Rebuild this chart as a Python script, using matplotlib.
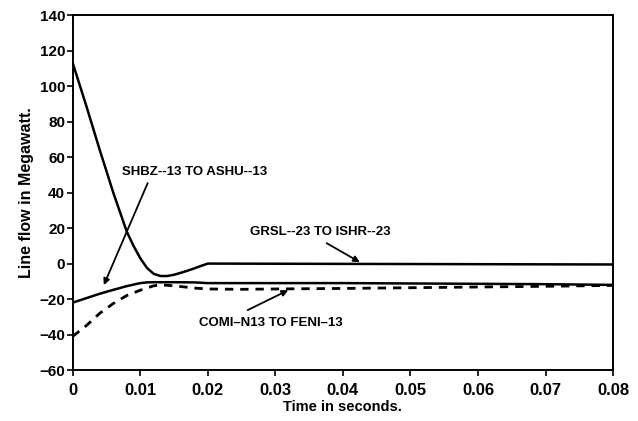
import matplotlib
matplotlib.use("Agg")
import matplotlib.pyplot as plt

plt.rcParams['font.family'] = ['Liberation Sans', 'DejaVu Sans']

# GRSL-23 TO ISHR-23 (solid, starts high)
t_grsl = [0, 0.002, 0.004, 0.006, 0.008, 0.009, 0.010, 0.011, 0.012, 0.013,
          0.014, 0.015, 0.016, 0.017, 0.018, 0.019, 0.020, 0.08]
y_grsl = [113, 89, 64, 40, 18, 10, 3, -2.5, -5.8, -7, -7, -6.3, -5.2, -4,
          -2.7, -1.3, 0, -0.5]

# SHBZ-13 TO ASHU-13 (solid)
t_shbz = [0, 0.002, 0.004, 0.006, 0.008, 0.010, 0.011, 0.012, 0.015, 0.018,
          0.020, 0.030, 0.040, 0.050, 0.060, 0.070, 0.080]
y_shbz = [-22, -19.5, -17, -14.8, -12.7, -11, -10.6, -10.5, -10.5, -10.6,
          -11, -11, -11, -11.2, -11.4, -11.6, -12]

# COMI-N13 TO FENI-13 (dashed)
t_comi = [0, 0.002, 0.004, 0.006, 0.008, 0.010, 0.012, 0.013, 0.015, 0.018,
          0.020, 0.025, 0.030, 0.040, 0.050, 0.060, 0.070, 0.080]
y_comi = [-41, -35, -28, -22.5, -18, -15, -12.5, -12, -12.5, -13.8,
          -14.3, -14.5, -14.3, -14, -13.6, -13.2, -12.8, -12.3]

xticks = [0, 0.01, 0.02, 0.03, 0.04, 0.05, 0.06, 0.07, 0.08]
xticklabels = ['0', '0.01', '0.02', '0.03', '0.04', '0.05', '0.06', '0.07', '0.08']
yticks = [-60, -40, -20, 0, 20, 40, 60, 80, 100, 120, 140]

fig = plt.figure(figsize=(6.38, 4.21), dpi=100)
ax = fig.add_axes([0.114, 0.121, 0.847, 0.843])

ax.plot(t_grsl, y_grsl, color='black', lw=1.8)
ax.plot(t_shbz, y_shbz, color='black', lw=1.8)
ax.plot(t_comi, y_comi, color='black', lw=2.0, dashes=(3, 2.5))

ax.set_xlim(0, 0.08)
ax.set_ylim(-60, 140)
ax.set_xticks(xticks)
ax.set_xticklabels(xticklabels)
ax.set_yticks(yticks)
ax.tick_params(direction='out', length=4, width=1.2)
ax.tick_params(axis='x', labelsize=12, pad=5)
ax.tick_params(axis='y', labelsize=11, pad=1.5)
for lab in ax.get_xticklabels() + ax.get_yticklabels():
    lab.set_fontweight('bold')
for s in ax.spines.values():
    s.set_linewidth(1.4)

ax.set_xlabel('Time in seconds.', fontsize=10.5, fontweight='bold', labelpad=2)
ax.set_ylabel('Line flow in Megawatt.', fontsize=11.5, fontweight='bold', labelpad=4)

arrow = dict(arrowstyle='-|>', color='black', lw=1.3, mutation_scale=9,
             shrinkA=0, shrinkB=0)
ax.annotate('', xy=(0.0046, -12.1), xytext=(0.0111, 45.4), arrowprops=arrow)
ax.text(0.0181, 51.5, 'SHBZ--13 TO ASHU--13', ha='center', va='center',
        fontsize=9.5, fontweight='bold')

ax.annotate('', xy=(0.0425, 0.8), xytext=(0.0376, 11.5), arrowprops=arrow)
ax.text(0.0366, 17.7, 'GRSL--23 TO ISHR--23', ha='center', va='center',
        fontsize=9.5, fontweight='bold')

ax.annotate('', xy=(0.0319, -15), xytext=(0.0259, -26.2), arrowprops=arrow)
ax.text(0.0293, -33.5, 'COMI\u2013N13 TO FENI\u201313', ha='center', va='center',
        fontsize=9.5, fontweight='bold')

fig.savefig('out.png', dpi=100)
